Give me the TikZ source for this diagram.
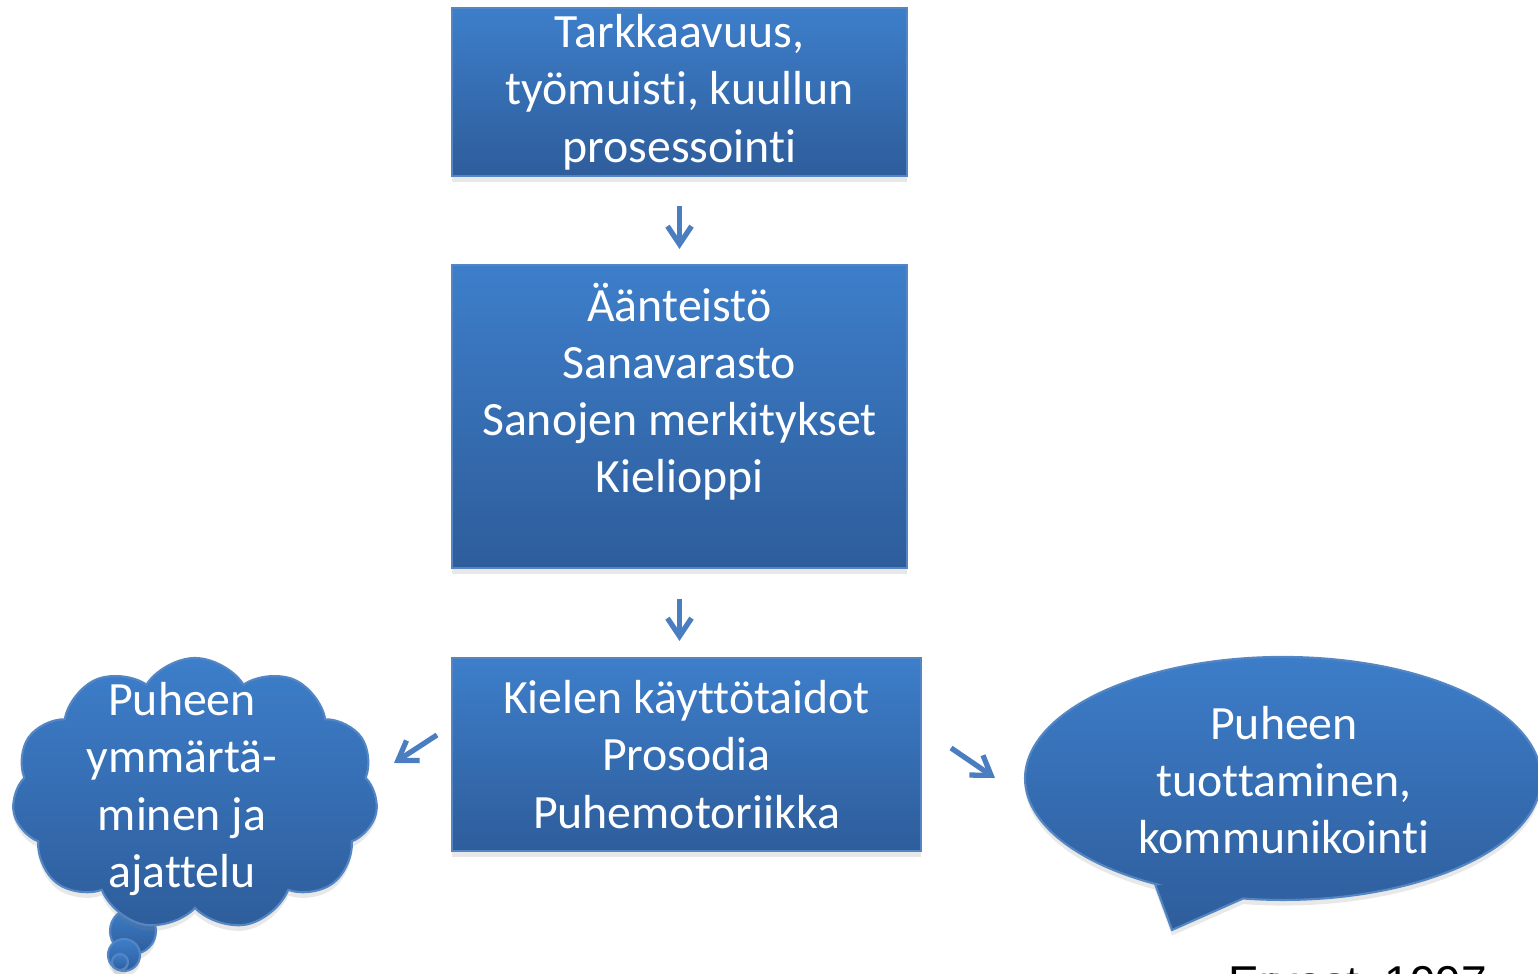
\documentclass[tikz,border=0pt]{standalone}
\usepackage{fontspec}
\setmainfont[Ligatures=NoCommon]{Carlito}
\newfontfamily\refsans{Liberation Sans}
\usetikzlibrary{arrows.meta,shapes.symbols,shadows}

\definecolor{boxtop}{RGB}{61,126,202}
\definecolor{boxbot}{RGB}{46,93,155}
\definecolor{boxedge}{RGB}{84,134,196}
\definecolor{arrowblue}{RGB}{74,126,193}

\tikzset{
  boxfill/.style={top color=boxtop, bottom color=boxbot, draw=boxedge, line width=0.6pt,
    drop shadow={shadow xshift=0pt, shadow yshift=-1.6pt, opacity=0.18}},
  bluebox/.style={rectangle, boxfill, text=white, align=center, inner sep=0pt,
    font=\fontsize{13.6pt}{16.3pt}\selectfont},
  bluetext/.style={text=white, align=center, inner sep=0pt,
    font=\fontsize{13.6pt}{16.3pt}\selectfont},
  flowarrow/.style={draw=arrowblue, line width=1.5pt,
    -{Straight Barb[length=1.8mm,width=2.4mm]}}
}

\begin{document}
\begin{tikzpicture}

\useasboundingbox (0,0) rectangle (15.38,9.74);
\clip (0,0) rectangle (15.38,9.74);

% Three boxes down the middle
\node[bluebox, minimum width=4.55cm, minimum height=1.68cm] (attn) at (6.795,8.82)
  {Tarkkaavuus,\\työmuisti, kuullun\\prosessointi};
\node[bluebox, minimum width=4.55cm, minimum height=3.03cm] (lang) at (6.795,5.575)
  {Äänteistö\\Sanavarasto\\Sanojen merkitykset\\Kielioppi\\\mbox{}};
\node[bluebox, minimum width=4.69cm, minimum height=1.93cm] (use) at (6.865,2.195)
  {Kielen käyttötaidot\\Prosodia\\Puhemotoriikka};

% Arrows between the boxes
\draw[flowarrow, shorten <=0.29cm, shorten >=0.15cm] (attn.south) -- (lang.north);
\draw[flowarrow, shorten <=0.30cm, shorten >=0.16cm] (lang.south) -- (lang.south |- use.north);

% Side arrows
\coordinate (thinkA) at (4.37,2.39);
\coordinate (thinkB) at (3.94,2.11);
\coordinate (speakA) at (9.51,2.26);
\coordinate (speakB) at (9.95,1.96);
\draw[flowarrow] (thinkA) -- (thinkB);
\draw[flowarrow] (speakA) -- (speakB);

% Thought cloud on the left
\fill[boxfill] (1.33,0.43) circle (0.23);
\fill[boxfill] (1.24,0.19) circle (0.16);
\fill[boxfill] (1.20,0.12) circle (0.08);
\node[cloud, cloud puffs=11, cloud puff arc=115, aspect=1.35, boxfill,
  minimum width=3.66cm, minimum height=2.72cm, inner sep=0pt] (think) at (1.95,1.80) {};
\node[bluetext] (thinktext) at (1.82,1.85) {Puheen\\ymmärtä-\\minen ja\\ajattelu};

% Speech bubble on the right
\path[boxfill] (11.55,0.90) -- (11.72,0.44) -- (12.431,0.755)
  arc[start angle=261.1, end angle=600.3, x radius=2.58, y radius=1.215] -- cycle;
\node[bluetext] (speak) at (12.84,1.94) {Puheen\\tuottaminen,\\kommunikointi};

% Source, cut off at the lower edge
\node[anchor=base west, inner sep=0pt, font=\refsans\fontsize{13.1pt}{15pt}\selectfont]
  (source) at (12.28,-0.25) {Ervast, 1997};

\end{tikzpicture}
\end{document}
